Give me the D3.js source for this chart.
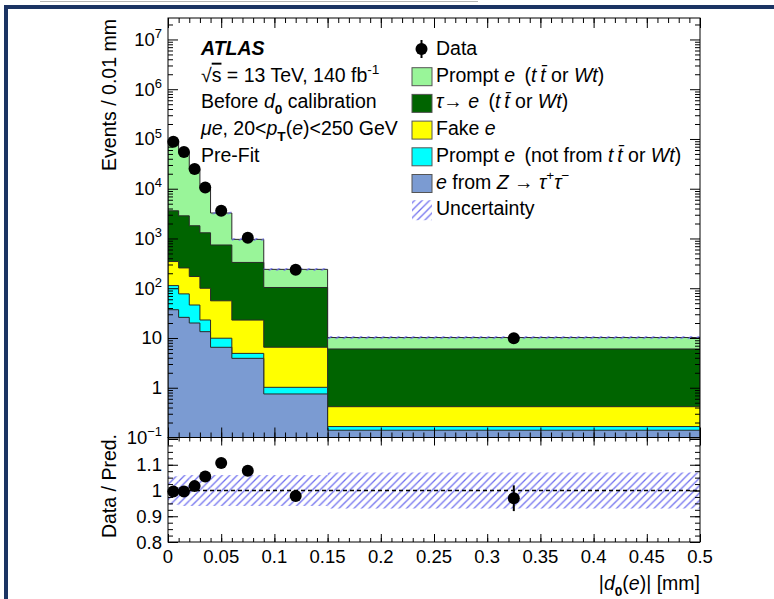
<!DOCTYPE html>
<html>
<head>
<meta charset="utf-8">
<script src="https://cdn.jsdelivr.net/npm/d3@7"></script>
<style>
  body { margin: 0; background: #fff; }
  text { font-family: "Liberation Sans", Arial, Helvetica, sans-serif; fill: #000; }
</style>
</head>
<body>
<svg id="chart" width="774" height="599"></svg>
<script>
// bins in |d0(e)| [mm]
const binEdges = [0, 0.01, 0.02, 0.03, 0.04, 0.06, 0.09, 0.15, 0.5];

// stacked backgrounds, events / 0.01 mm (bottom to top)
const zTauTau     = [37, 26, 20, 13.4, 6.5, 3.9, 0.75, 0.14];
const promptOther = [76, 51, 26, 9.6, 3.4, 1.0, 0.27, 0.026];
const fakeE       = [231, 179, 126, 77, 46, 18, 5.5, 0.25];
const tauToE      = [3256, 2594, 1628, 1200, 684, 307, 97, 5.6];
const promptTT    = [84400, 52150, 22800, 8700, 2510, 630, 136, 4.2];

const dataCounts = [87700, 54800, 25000, 10540, 3600, 1030, 235, 9.9];
const ratioVals  = [0.996, 0.996, 1.017, 1.054, 1.107, 1.077, 0.979, 0.97];
const ratioErr   = [0.003, 0.004, 0.005, 0.007, 0.01, 0.012, 0.015, 0.05];
const uncert     = [0.055, 0.06, 0.06, 0.06, 0.06, 0.06, 0.06, 0.07];

const xMajorTicks = [0, 0.05, 0.1, 0.15, 0.2, 0.25, 0.3, 0.35, 0.4, 0.45, 0.5];
const yMajorTicks = [0.1, 1, 10, 1e2, 1e3, 1e4, 1e5, 1e6, 1e7];
const rMajorTicks = [0.8, 0.9, 1, 1.1];

const layerColors = ['#7b9bd2', '#00ffff', '#ffff00', '#006400', '#99f599'];

const svg = d3.select('#chart');
const fs = 19.5, tfs = 18.5;

// page frame
svg.append('line').attr('x1', 40).attr('x2', 478).attr('y1', 1.5).attr('y2', 1.5)
  .attr('stroke', '#b4b4b4').attr('stroke-width', 1);
svg.append('rect').attr('x', 4).attr('y', 5).attr('width', 770).attr('height', 4).attr('fill', '#1b3463');
svg.append('rect').attr('x', 4).attr('y', 5).attr('width', 4).attr('height', 594).attr('fill', '#1b3463');

const left = 168, right = 700, mainTop = 18, mainBot = 437.5, ratTop = 439, ratBot = 542;

const x = d3.scaleLinear().domain([0, 0.5]).range([left, right]);
const y = d3.scaleLog().domain([0.1, 2.7e7]).range([mainBot, mainTop]);
const yr = d3.scaleLinear().domain([0.8, 1.2]).range([ratBot, ratTop]);

// hatch pattern
const defs = svg.append('defs');
const pat = defs.append('pattern').attr('id', 'hatch').attr('patternUnits', 'userSpaceOnUse')
  .attr('width', 7.5).attr('height', 7.5);
pat.append('path').attr('d', 'M-1,1 l2,-2 M0,7.5 l7.5,-7.5 M6.5,8.5 l2,-2')
  .attr('stroke', '#6f6fee').attr('stroke-width', 1.3);
defs.append('clipPath').attr('id', 'clipMain').append('rect')
  .attr('x', left).attr('y', mainTop).attr('width', right - left).attr('height', mainBot - mainTop);

// stack
const series = [zTauTau, promptOther, fakeE, tauToE, promptTT];
const cum = [];
series.forEach((s, k) => {
  cum.push(s.map((v, i) => (k ? cum[k - 1][i] : 0) + v));
});
const total = cum[cum.length - 1];

const stepPts = (vals) => {
  const pts = vals.map((v, i) => ({ x: binEdges[i], v }));
  pts.push({ x: binEdges[binEdges.length - 1], v: vals[vals.length - 1] });
  return pts;
};
const area = d3.area().curve(d3.curveStepAfter)
  .x((d) => x(d.x)).y0(mainBot).y1((d) => y(d.v));

const gMain = svg.append('g').attr('clip-path', 'url(#clipMain)');
for (let k = cum.length - 1; k >= 0; k--) {
  gMain.append('path').attr('d', area(stepPts(cum[k])) + 'Z')
    .attr('fill', layerColors[k]).attr('stroke', '#2a2a2a').attr('stroke-width', 1);
}
// uncertainty on total
total.forEach((t, i) => {
  gMain.append('rect').attr('x', x(binEdges[i])).attr('width', x(binEdges[i + 1]) - x(binEdges[i]))
    .attr('y', y(t * (1 + uncert[i]))).attr('height', y(t * (1 - uncert[i])) - y(t * (1 + uncert[i])))
    .attr('fill', 'url(#hatch)');
});

// data points
const mids = binEdges.slice(0, -1).map((e, i) => (e + binEdges[i + 1]) / 2);
mids.forEach((m, i) => {
  const w = (binEdges[i + 1] - binEdges[i]) / 0.01;
  const err = Math.sqrt(dataCounts[i] * w) / w;
  svg.append('line').attr('x1', x(m)).attr('x2', x(m))
    .attr('y1', y(dataCounts[i] + err)).attr('y2', y(dataCounts[i] - err))
    .attr('stroke', '#000').attr('stroke-width', 2);
  svg.append('circle').attr('cx', x(m)).attr('cy', y(dataCounts[i])).attr('r', 6).attr('fill', '#000');
});

// ratio panel
uncert.forEach((u, i) => {
  svg.append('rect').attr('x', x(binEdges[i])).attr('width', x(binEdges[i + 1]) - x(binEdges[i]))
    .attr('y', yr(1 + u)).attr('height', yr(1 - u) - yr(1 + u)).attr('fill', 'url(#hatch)');
});
svg.append('line').attr('x1', x(0)).attr('x2', x(0.5)).attr('y1', yr(1)).attr('y2', yr(1))
  .attr('stroke', '#000').attr('stroke-width', 1.3).attr('stroke-dasharray', '4,3');
mids.forEach((m, i) => {
  svg.append('line').attr('x1', x(m)).attr('x2', x(m))
    .attr('y1', yr(ratioVals[i] + ratioErr[i])).attr('y2', yr(ratioVals[i] - ratioErr[i]))
    .attr('stroke', '#000').attr('stroke-width', 2);
  svg.append('circle').attr('cx', x(m)).attr('cy', yr(ratioVals[i])).attr('r', 6).attr('fill', '#000');
});

// frames
svg.append('rect').attr('x', left).attr('y', mainTop).attr('width', right - left).attr('height', mainBot - mainTop)
  .attr('fill', 'none').attr('stroke', '#000').attr('stroke-width', 1);
svg.append('rect').attr('x', left).attr('y', mainBot).attr('width', right - left).attr('height', ratBot - mainBot)
  .attr('fill', 'none').attr('stroke', '#000').attr('stroke-width', 1);

// ticks
const xMinor = d3.range(0, 51).map((i) => i * 0.01);
const yMinor = [];
for (let k = -1; k <= 7; k++) for (let m = 2; m <= 9; m++) if (m * 10 ** k < 2.7e7) yMinor.push(m * 10 ** k);
const rMinor = d3.range(0, 17).map((i) => 0.8 + i * 0.025);

function tickAxis(axis, vals, size, tx, ty) {
  const g = svg.append('g').attr('transform', `translate(${tx},${ty})`)
    .call(axis.tickValues(vals).tickSize(size).tickSizeOuter(0).tickFormat(''));
  g.select('.domain').remove();
  g.selectAll('line').attr('stroke', '#000');
  return g;
}
tickAxis(d3.axisTop(x), xMinor, -5, 0, mainTop);
tickAxis(d3.axisTop(x), xMajorTicks, -10, 0, mainTop);
tickAxis(d3.axisBottom(x), xMinor, -5, 0, mainBot);
tickAxis(d3.axisBottom(x), xMajorTicks, -10, 0, mainBot);
tickAxis(d3.axisLeft(y), yMinor, -5, left, 0);
tickAxis(d3.axisLeft(y), yMajorTicks, -10, left, 0);
tickAxis(d3.axisRight(y), yMinor, -5, right, 0);
tickAxis(d3.axisRight(y), yMajorTicks, -10, right, 0);
tickAxis(d3.axisTop(x), xMinor, -4, 0, mainBot);
tickAxis(d3.axisTop(x), xMajorTicks, -8, 0, mainBot);
tickAxis(d3.axisBottom(x), xMinor, -4, 0, ratBot);
tickAxis(d3.axisBottom(x), xMajorTicks, -8, 0, ratBot);
tickAxis(d3.axisLeft(yr), rMinor, -5, left, 0);
tickAxis(d3.axisLeft(yr), rMajorTicks.concat([1.2]), -10, left, 0);
tickAxis(d3.axisRight(yr), rMinor, -5, right, 0);
tickAxis(d3.axisRight(yr), rMajorTicks.concat([1.2]), -10, right, 0);

// rich text helper: parts = [[text, flags]]
function rich(sel, parts, size) {
  let shift = 0;
  parts.forEach(([t, f = '']) => {
    const sp = sel.append('tspan').text(t).attr('font-weight', 'normal');
    let want = 0;
    if (f.includes('sup')) { want = -0.42 * size; sp.attr('font-size', 0.7 * size); }
    if (f.includes('sub')) { want = 0.3 * size; sp.attr('font-size', 0.7 * size); }
    if (want !== shift) { sp.attr('dy', want - shift); shift = want; }
    if (f.includes('i')) sp.attr('font-style', 'italic');
    if (f.includes('b')) sp.attr('font-weight', 'bold');
    if (f.includes('o')) sp.style('text-decoration', 'overline');
  });
  return sel;
}

// y tick labels
yMajorTicks.forEach((v) => {
  const e = Math.round(Math.log10(v));
  const t = svg.append('text').attr('x', 162).attr('y', y(v) + 6.5)
    .attr('text-anchor', 'end').attr('font-size', tfs);
  if (e === 0) rich(t, [['1']], tfs);
  else if (e === 1) rich(t, [['10']], tfs);
  else rich(t, [['10'], [e < 0 ? '\u2212' + (-e) : String(e), 'sup']], tfs);
});
rMajorTicks.forEach((v) => {
  svg.append('text').attr('x', 162).attr('y', yr(v) + 6.5).attr('text-anchor', 'end')
    .attr('font-size', tfs).text(String(v));
});
xMajorTicks.forEach((v) => {
  svg.append('text').attr('x', x(v)).attr('y', 563).attr('text-anchor', 'middle')
    .attr('font-size', tfs).text(String(+v.toFixed(2)));
});

// axis titles
rich(svg.append('text').attr('x', 700).attr('y', 590).attr('text-anchor', 'end').attr('font-size', fs),
  [['|'], ['d', 'i'], ['0', 'sub'], ['('], ['e', 'i'], [')| [mm]']], fs);
svg.append('text').attr('transform', 'translate(116,19) rotate(-90)').attr('text-anchor', 'end')
  .attr('font-size', fs).attr('textLength', 152).text('Events / 0.01 mm');
svg.append('text').attr('transform', 'translate(116,434) rotate(-90)').attr('text-anchor', 'end')
  .attr('font-size', fs).text('Data / Pred.');

// annotation
const annoLines = [
  [['ATLAS', 'bi']],
  [['\u221A'], ['s', 'o'], [' = 13 TeV, 140 fb'], ['-1', 'sup']],
  [['Before '], ['d', 'i'], ['0', 'sub'], [' calibration']],
  [['\u03BCe', 'i'], [', 20<'], ['p', 'i'], ['T', 'sub'], ['('], ['e', 'i'], [')<250 GeV']],
  [['Pre-Fit']],
];
annoLines.forEach((parts, i) => {
  rich(svg.append('text').attr('x', 201).attr('y', 55 + i * 26.7).attr('font-size', fs), parts, fs);
});

// legend
const ttbar = 't\u2009t\u0304';
const legendLabels = [
  [['Data']],
  [['Prompt '], ['e\u2009', 'i'], [' ('], [ttbar, 'i'], [' or '], ['Wt', 'i'], [')']],
  [['\u03C4', 'i'], ['\u2192 '], ['e\u2009', 'i'], [' ('], [ttbar, 'i'], [' or '], ['Wt', 'i'], [')']],
  [['Fake '], ['e', 'i']],
  [['Prompt '], ['e\u2009', 'i'], [' (not from '], [ttbar, 'i'], [' or '], ['Wt', 'i'], [')']],
  [['e', 'i'], [' from '], ['Z', 'i'], [' \u2192  '], ['\u03C4', 'i'], ['+', 'sup'], ['\u03C4', 'i'], ['\u2212', 'sup']],
  [['Uncertainty']],
];
const legendFill = [null, '#99f599', '#006400', '#ffff00', '#00ffff', '#7b9bd2', 'url(#hatch)'];
legendLabels.forEach((parts, i) => {
  const by = 55 + i * 26.7;
  if (i === 0) {
    svg.append('line').attr('x1', 421.5).attr('x2', 421.5).attr('y1', by - 15).attr('y2', by + 3)
      .attr('stroke', '#000').attr('stroke-width', 2);
    svg.append('circle').attr('cx', 421.5).attr('cy', by - 6).attr('r', 6).attr('fill', '#000');
  } else if (i === 6) {
    svg.append('rect').attr('x', 412).attr('y', by - 15).attr('width', 20).attr('height', 20)
      .attr('fill', legendFill[i]);
  } else {
    svg.append('rect').attr('x', 412).attr('y', by - 14).attr('width', 20).attr('height', 18)
      .attr('fill', legendFill[i]).attr('stroke', '#555').attr('stroke-width', 1);
  }
  rich(svg.append('text').attr('x', 436).attr('y', by).attr('font-size', fs), parts, fs);
});
</script>
</body>
</html>
